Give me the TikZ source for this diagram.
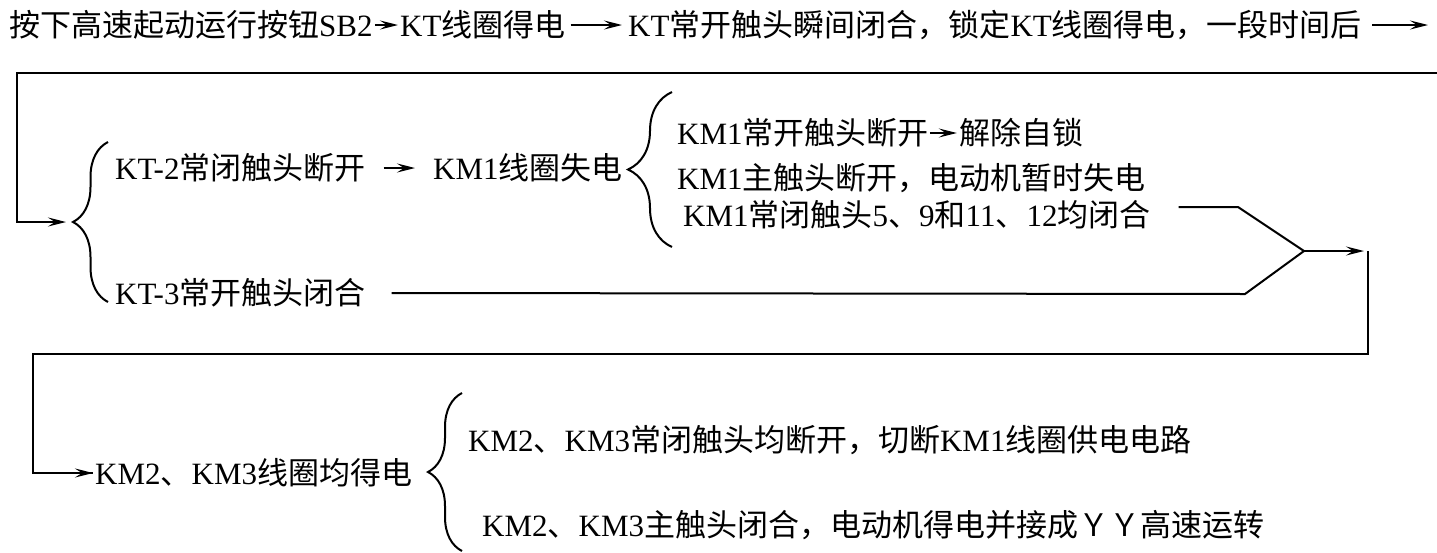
\documentclass[tikz,border=0pt]{standalone}
\usepackage{fontspec}
\setmainfont{Liberation Serif}
\newfontfamily\cjk{Noto Sans CJK SC}
\usetikzlibrary{arrows.meta,decorations.pathreplacing}
\newcommand{\zh}[1]{{\cjk #1}}
\begin{document}
\begin{tikzpicture}[x=1pt,y=-1pt,
  txt/.style={anchor=west,inner sep=0pt,font=\fontsize{31}{36}\selectfont,text height=24pt,text depth=2pt},
  ln/.style={line width=2pt},
  arr/.style={ln,-{Stealth[length=18pt,width=9pt,inset=7pt]}},
  brc/.style={line width=2pt,decorate,decoration={brace,amplitude=#1,aspect=0.5}}]
\useasboundingbox (0,0) rectangle (1437,552);
% top line
\node[txt] (t1) at (9,25) {\zh{按下高速起动运行按钮}SB2};
\node[txt] (t2) at (400,25) {KT\zh{线圈得电}};
\node[txt] (t3) at (628,25) {KT\zh{常开触头瞬间闭合，锁定}KT\zh{线圈得电，一段时间后}};
\coordinate (e1) at (1428,25);
\draw[arr] ([xshift=2pt]t1.east) -- ([xshift=-2pt]t2.west);
\draw[arr] ([xshift=5pt]t2.east) -- ([xshift=-6pt]t3.west);
\draw[arr] ([xshift=10pt]t3.east) -- (e1);
% loop to second block
\coordinate (r1) at (1437,73);
\coordinate (l1) at (17,73);
\coordinate (b1) at (73,222);
\draw[brc=35pt] (108,302) -- (108,142);
\draw[arr] (r1) -- (l1) |- ([xshift=-7pt]b1);
% second block
\node[txt] (k2) at (115,168) {KT-2\zh{常闭触头断开}};
\node[txt] (k3) at (115,293) {KT-3\zh{常开触头闭合}};
\node[txt] (m1) at (433,168) {KM1\zh{线圈失电}};
\draw[arr] ([xshift=18pt]k2.east) -- ([xshift=-18pt]m1.west);
\draw[brc=44pt] (672,247) -- (672,92);
\node[txt] (a1) at (677,133) {KM1\zh{常开触头断开}};
\node[txt] (a2) at ([xshift=30pt]a1.east) {\zh{解除自锁}};
\draw[arr] ([xshift=1pt]a1.east) -- ([xshift=-2pt]a2.west);
\node[txt] (a3) at (677,178) {KM1\zh{主触头断开，电动机暂时失电}};
\node[txt] (a4) at (683,215) {KM1\zh{常闭触头}5\zh{、}9\zh{和}11\zh{、}12\zh{均闭合}};
\coordinate (mg) at (1304,251);
\coordinate (u1) at (1238,207);
\coordinate (u2) at (1245,294);
\draw[ln] ([shift={(28pt,8pt)}]a4.east) -- (u1) -- (mg);
\draw[ln] ([xshift=26pt]k3.east) -- (u2) -- (mg);
\coordinate (rv) at (1368,251);
\coordinate (rb) at (1368,354);
\coordinate (lb) at (33,354);
\draw[arr] (mg) -- ([xshift=-4pt]rv);
% third block
\node[txt] (n1) at (95,473) {KM2\zh{、}KM3\zh{线圈均得电}};
\draw[ln] (rv) -- (rb) -- (lb) |- ([xshift=-2pt]n1.west);
\draw[arr] (lb |- n1.west) -- ([xshift=-2pt]n1.west);
\draw[brc=34pt] (462,551) -- (462,393);
\node[txt] (n2) at (468,440) {KM2\zh{、}KM3\zh{常闭触头均断开，切断}KM1\zh{线圈供电电路}};
\node[txt] (n3) at (482,525) {KM2\zh{、}KM3\zh{主触头闭合，电动机得电并接成ＹＹ高速运转}};
\end{tikzpicture}
\end{document}
